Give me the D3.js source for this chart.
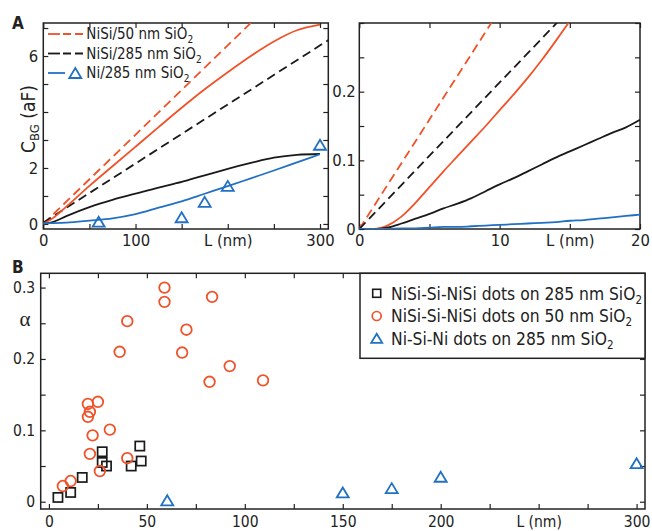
<!DOCTYPE html>
<html>
<head>
<meta charset="utf-8">
<script src="https://cdn.jsdelivr.net/npm/d3@7"></script>
<style>
  body { margin: 0; background: #fff; }
  svg text { font-family: "DejaVu Sans Condensed", "DejaVu Sans", sans-serif; font-stretch: condensed; fill: #222; }
</style>
</head>
<body>
<script>
// ---- Panel A, full range (L in nm, C_BG in aF)
const lFull = [0, 10, 25, 50, 75, 100, 125, 150, 175, 200, 225, 250, 275, 300];
const redSolidFull = [0, 0.2, 0.62, 1.36, 2.06, 2.76, 3.46, 4.15, 4.81, 5.42, 6.0, 6.52, 6.92, 7.12];
const blackSolidFull = [0, 0.065, 0.28, 0.6, 0.86, 1.08, 1.3, 1.5, 1.74, 1.97, 2.18, 2.37, 2.47, 2.5];
const blueSolidFull = [0.02, 0.03, 0.05, 0.12, 0.2, 0.35, 0.58, 0.81, 1.08, 1.35, 1.63, 1.91, 2.2, 2.49];
const lDashRed = [0, 230], redDashedFull = [0, 7.34];
const lDashBlack = [0, 310], blackDashedFull = [0.05, 6.59];
const niTriL = [60, 150, 175, 200, 300];
const niTriC = [0.08, 0.24, 0.79, 1.36, 2.83];

// ---- Panel A, zoom 0-20 nm
const lZoom = [0, 1, 2, 3, 4, 5, 6, 7, 8, 9, 10, 11, 12, 13, 14, 15, 16, 17, 18, 19, 20];
const redSolidZoom = [0, 0, 0.005, 0.018, 0.038, 0.061, 0.084, 0.106, 0.128, 0.15, 0.173, 0.196, 0.22, 0.246, 0.274, 0.303, 0.333];
const blackSolidZoom = [0, 0, 0.002, 0.008, 0.015, 0.022, 0.03, 0.037, 0.045, 0.055, 0.065, 0.074, 0.084, 0.094, 0.104, 0.113, 0.122, 0.131, 0.14, 0.148, 0.159];
const blueSolidZoom = [0, 0, 0, 0.001, 0.001, 0.002, 0.003, 0.003, 0.004, 0.005, 0.006, 0.007, 0.008, 0.009, 0.01, 0.012, 0.013, 0.015, 0.017, 0.019, 0.021];
const lZoomDashRed = [0, 10], redDashedZoom = [0, 0.319];
const lZoomDashBlack = [0, 15], blackDashedZoom = [0, 0.32];

// ---- Panel B, alpha vs L
const sqL = [4.6, 11.1, 17, 27.2, 27.2, 29.4, 42, 46.4, 47.1];
const sqA = [0.006, 0.013, 0.034, 0.07, 0.055, 0.05, 0.05, 0.078, 0.057];
const circL = [7.1, 11.1, 19.9, 19.9, 20.9, 20.9, 22.3, 25, 26, 31.1, 36.1, 40, 40, 59, 59, 68, 70.2, 82, 83.3, 92.3, 109.3];
const circA = [0.022, 0.029, 0.119, 0.137, 0.126, 0.067, 0.093, 0.14, 0.043, 0.101, 0.21, 0.253, 0.061, 0.3, 0.28, 0.209, 0.241, 0.168, 0.287, 0.19, 0.17];
const triL = [60.4, 150, 175, 200, 300];
const triA = [0.002, 0.013, 0.019, 0.035, 0.054];

const legendA = ["NiSi/50 nm SiO", "NiSi/285 nm SiO", "Ni/285 nm SiO"];
const legendB = ["NiSi-Si-NiSi dots on 285 nm SiO", "NiSi-Si-NiSi dots on 50 nm SiO", "Ni-Si-Ni dots on 285 nm SiO"];

const RED = "#f0522a", BLUE = "#2171c2", BLACK = "#1a1a1a", FRAME = "#222";

const svg = d3.select("body").append("svg")
    .attr("width", 652)
    .attr("height", 531);

const pairs = (xs, ys) => xs.map((x, i) => [x, ys[i]]);
const triPath = (w, h) => `M0,${-h / 2}L${w / 2},${h / 2}L${-w / 2},${h / 2}Z`;

// Draws frame + inward ticks on all four sides
function frame(x, y, xt, yt, xfmt, yfmt, fs, xpad, ypad, id) {
    const g = svg.append("g");
    const [x0, x1] = x.range(), [y0, y1] = y.range();
    g.append("g").attr("transform", `translate(0,${y0})`)
        .call(d3.axisBottom(x).tickValues(xt).tickFormat(xfmt).tickSizeInner(-5).tickSizeOuter(0).tickPadding(xpad));
    g.append("g").attr("transform", `translate(0,${y1})`)
        .call(d3.axisTop(x).tickValues(xt).tickFormat("").tickSizeInner(-5).tickSizeOuter(0));
    g.append("g").attr("transform", `translate(${x0},0)`)
        .call(d3.axisLeft(y).tickValues(yt).tickFormat(yfmt).tickSizeInner(-5).tickSizeOuter(0).tickPadding(ypad));
    g.append("g").attr("transform", `translate(${x1},0)`)
        .call(d3.axisRight(y).tickValues(yt).tickFormat("").tickSizeInner(-5).tickSizeOuter(0));
    g.selectAll(".domain").remove();
    g.selectAll(".tick line").attr("stroke", FRAME).attr("stroke-width", 1.2);
    g.selectAll(".tick text").style("font-size", fs + "px").attr("fill", "#222");
    g.append("rect")
        .attr("x", x0).attr("y", y1).attr("width", x1 - x0).attr("height", y0 - y1)
        .attr("fill", "none").attr("stroke", FRAME).attr("stroke-width", 1.5);

    svg.append("clipPath").attr("id", id)
        .append("rect").attr("x", x0).attr("y", y1).attr("width", x1 - x0).attr("height", y0 - y1);
    return svg.append("g").attr("clip-path", `url(#${id})`);
}

function curve(g, x, y, xs, ys, color, dashed) {
    const line = d3.line().x(d => x(d[0])).y(d => y(d[1])).curve(d3.curveMonotoneX);
    g.append("path")
        .datum(pairs(xs, ys))
        .attr("d", line)
        .attr("fill", "none")
        .attr("stroke", color)
        .attr("stroke-width", 1.8)
        .attr("stroke-dasharray", dashed ? "9,5" : null);
}

// ===== Panel A left
const xA = d3.scaleLinear().domain([0, 309]).range([43.3, 328.3]);
const yA = d3.scaleLinear().domain([-0.18, 7.18]).range([229, 23]);
const gA = frame(xA, yA, d3.range(0, 301, 50), d3.range(0, 8, 1),
    d => d === 200 ? "L (nm)" : (d % 100 === 0 ? d : ""),
    d => (d === 0 || d === 2 || d === 6) ? d : "", 16.5, 5, 5, "clipA");

curve(gA, xA, yA, lDashRed, redDashedFull, RED, true);
curve(gA, xA, yA, lDashBlack, blackDashedFull, BLACK, true);
curve(gA, xA, yA, lFull, redSolidFull, RED, false);
curve(gA, xA, yA, lFull, blackSolidFull, BLACK, false);
curve(gA, xA, yA, lFull, blueSolidFull, BLUE, false);

svg.append("g").selectAll("path")
    .data(pairs(niTriL, niTriC))
    .join("path")
    .attr("transform", d => `translate(${xA(d[0])},${yA(d[1])})`)
    .attr("d", triPath(12, 10))
    .attr("fill", "none").attr("stroke", BLUE).attr("stroke-width", 1.8);

// legend A
const legA = svg.append("g");
const rowsA = [34, 53.5, 73];
[RED, BLACK].forEach((c, i) => {
    legA.append("line").attr("x1", 48).attr("x2", 60).attr("y1", rowsA[i]).attr("y2", rowsA[i])
        .attr("stroke", c).attr("stroke-width", 1.8);
    legA.append("line").attr("x1", 63).attr("x2", 85).attr("y1", rowsA[i]).attr("y2", rowsA[i])
        .attr("stroke", c).attr("stroke-width", 1.8).attr("stroke-dasharray", "8,4");
});
legA.append("line").attr("x1", 48).attr("x2", 65).attr("y1", rowsA[2]).attr("y2", rowsA[2])
    .attr("stroke", BLUE).attr("stroke-width", 1.8);
legA.append("path").attr("transform", `translate(75.3,${rowsA[2]})`).attr("d", triPath(12, 10))
    .attr("fill", "none").attr("stroke", BLUE).attr("stroke-width", 1.8);
legendA.forEach((t, i) => {
    const tx = legA.append("text").attr("x", 86.3).attr("y", rowsA[i]).attr("dy", "0.36em").style("font-size", "15px");
    tx.append("tspan").text(t);
    tx.append("tspan").attr("dy", 4).style("font-size", "10px").text("2");
});

// y label and panel letter
const yl = svg.append("text").attr("transform", "translate(35,119) rotate(-90)")
    .attr("text-anchor", "middle").style("font-size", "19px");
yl.append("tspan").text("C");
yl.append("tspan").attr("dy", 4).style("font-size", "13px").text("BG");
yl.append("tspan").attr("dy", -4).text(" (aF)");
svg.append("text").attr("x", 12).attr("y", 29).style("font-size", "17px").style("font-weight", "bold").text("A");

// ===== Panel A right (zoom)
const xZ = d3.scaleLinear().domain([0, 20]).range([359.3, 640]);
const yZ = d3.scaleLinear().domain([0, 0.3]).range([229, 23]);
const gZ = frame(xZ, yZ, [0, 5, 10, 15, 20], d3.range(0, 0.31, 0.05),
    d => d === 15 ? "L (nm)" : (d % 10 === 0 ? d : ""),
    d => [0, 0.1, 0.2].some(v => Math.abs(v - d) < 1e-9) ? +d.toFixed(2) : "", 16.5, 5, 3.5, "clipZ");

curve(gZ, xZ, yZ, lZoomDashRed, redDashedZoom, RED, true);
curve(gZ, xZ, yZ, lZoomDashBlack, blackDashedZoom, BLACK, true);
curve(gZ, xZ, yZ, lZoom.slice(0, redSolidZoom.length), redSolidZoom, RED, false);
curve(gZ, xZ, yZ, lZoom, blackSolidZoom, BLACK, false);
curve(gZ, xZ, yZ, lZoom, blueSolidZoom, BLUE, false);

// ===== Panel B
const xB = d3.scaleLinear().domain([-4.2, 304.3]).range([40.7, 645]);
const yB = d3.scaleLinear().domain([-0.0102, 0.32]).range([509, 273.3]);
frame(xB, yB, d3.range(0, 301, 25), d3.range(0, 0.31, 0.05),
    d => d === 250 ? "L (nm)" : (d % 50 === 0 ? d : ""),
    d => [0, 0.1, 0.2, 0.3].some(v => Math.abs(v - d) < 1e-9) ? +d.toFixed(2) : "", 15.5, 7, 5.5, "clipB");

const gB = svg.append("g");
gB.selectAll(".sq").data(pairs(sqL, sqA)).join("rect")
    .attr("x", d => xB(d[0]) - 4.6).attr("y", d => yB(d[1]) - 4.6)
    .attr("width", 9.2).attr("height", 9.2)
    .attr("fill", "none").attr("stroke", BLACK).attr("stroke-width", 1.7);
gB.selectAll(".ci").data(pairs(circL, circA)).join("circle")
    .attr("cx", d => xB(d[0])).attr("cy", d => yB(d[1])).attr("r", 5.3)
    .attr("fill", "none").attr("stroke", RED).attr("stroke-width", 1.8);
gB.selectAll(".tr").data(pairs(triL, triA)).join("path")
    .attr("transform", d => `translate(${xB(d[0])},${yB(d[1])})`)
    .attr("d", triPath(12, 10))
    .attr("fill", "none").attr("stroke", BLUE).attr("stroke-width", 1.8);

// legend B
const legB = svg.append("g");
legB.append("rect").attr("x", 360).attr("y", 273.3).attr("width", 285).attr("height", 85)
    .attr("fill", "#fff").attr("stroke", FRAME).attr("stroke-width", 1.5);
const rowsB = [293.3, 316, 338.3];
legB.append("rect").attr("x", 376.7 - 4).attr("y", rowsB[0] - 4).attr("width", 8).attr("height", 8)
    .attr("fill", "none").attr("stroke", BLACK).attr("stroke-width", 1.6);
legB.append("circle").attr("cx", 376.7).attr("cy", rowsB[1]).attr("r", 4.5)
    .attr("fill", "none").attr("stroke", RED).attr("stroke-width", 1.7);
legB.append("path").attr("transform", `translate(376.7,${rowsB[2]})`).attr("d", triPath(11, 9))
    .attr("fill", "none").attr("stroke", BLUE).attr("stroke-width", 1.8);
legendB.forEach((t, i) => {
    const tx = legB.append("text").attr("x", 391).attr("y", rowsB[i]).attr("dy", "0.36em").style("font-size", "17.3px");
    tx.append("tspan").text(t);
    tx.append("tspan").attr("dy", 4).style("font-size", "11.5px").text("2");
});

svg.append("text").attr("x", 25).attr("y", 320).attr("dy", "0.3em").attr("text-anchor", "middle")
    .style("font-family", "'Liberation Serif', serif").style("font-size", "21px").text("α");
svg.append("text").attr("x", 12).attr("y", 272.5).style("font-size", "17px").style("font-weight", "bold").text("B");
</script>
</body>
</html>
